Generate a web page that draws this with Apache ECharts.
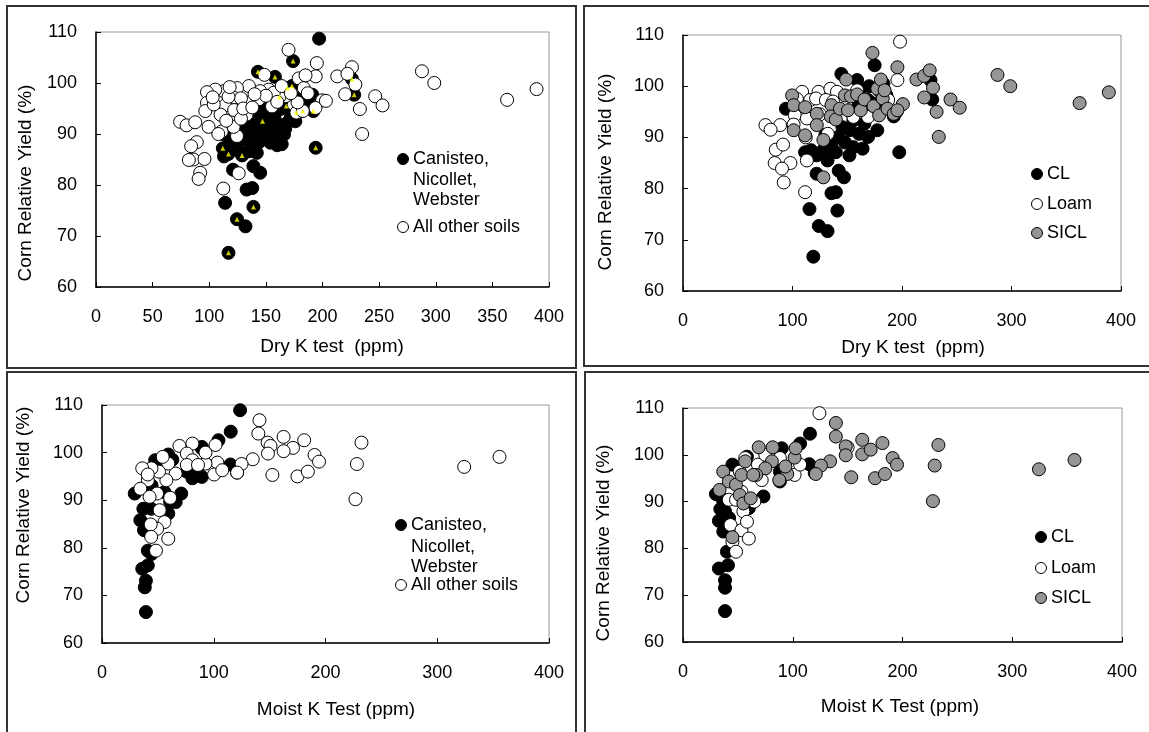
<!DOCTYPE html>
<html>
<head>
<meta charset="utf-8">
<script src="https://cdn.jsdelivr.net/npm/echarts@6/dist/echarts.min.js"></script>
<style>
  html, body { margin: 0; background: #fff; }
  #chart { width: 1149px; height: 732px; }
</style>
</head>
<body>
<div id="chart"></div>
<script>
// ---- data: [K test ppm, corn relative yield %] ----

// top left: dry K, soil series grouping
const dryCnw = [
  [197,108.7],[174,104.3],[143,102.2],[158,101.2],[169,99.0],[173,99.4],[191,97.7],[192,94.5],
  [194,87.3],[112,87.2],[117,86.1],[113,85.6],[129,85.8],[121,83.0],[139,83.7],[145,82.4],
  [114,76.5],[124.5,73.3],[132,71.9],[139,75.7],[133,79.1],[138,79.4],[117,66.7],[113,89.9],
  [129,89.9],[133,88.9],[139,87.6],[138,90.2],[145,91.2],[147,92.5],[151,91.9],[154,88.3],
  [164,88.0],[160,89.6],[166,89.9],[163,91.5],[169,92.2],[172,93.5],[175,94.1],[180,94.8],
  [157,90.9],[148,89.6],[121,87.3],[126,86.8],[135,86.6],[142,86.3],[136,92.8],[142,94.0],
  [150,94.5],[156,93.6],[162,94.8],[168,95.5],[177,97.0],[186,96.5],[226,100.8],[228,97.7],
  [131,91.0],[144,88.4],[152,90.0],[158,92.8],[167,91.0],[125,88.5],[118,88.0],[140,92.0],
  [185,96.0],[176,92.5],[160,87.8],[155,96.5],[148,95.8],[170,96.8]
];
const dryOther = [
  [170,106.5],[195,103.9],[194,101.3],[148.7,101.6],[179,100.9],[183.5,99.0],[199.7,96.6],[193.8,95.1],
  [180.5,94.5],[174.6,95.8],[167.3,97.4],[162,97.3],[177,94.2],[182.6,94.5],[152.5,98.7],[145,98.4],
  [157,98.1],[135,99.4],[124.5,99.0],[112.7,98.4],[105.3,98.7],[98,98.2],[121.5,97.1],[135,96.2],
  [143.6,96.8],[155.4,95.4],[114,95.6],[98,96.1],[96.5,94.5],[110,93.8],[122,94.7],[133,93.8],
  [99.4,91.4],[111,90.5],[124.5,89.6],[121.5,91.4],[74.3,92.4],[80,91.7],[87.6,92.3],[89,88.4],
  [84,87.6],[86,85.0],[95.8,85.1],[92,82.4],[90.6,81.2],[112.4,79.3],[126,82.3],[82,84.9],
  [287.8,102.3],[298.7,100.0],[363,96.7],[389,98.8],[246.5,97.4],[253,95.6],[233,94.9],[235,90.0],
  [226,103.1],[229,99.7],[220,97.8],[213,101.3],[222,101.8],[203,96.5],[185,101.5],[178,96.2],
  [160,96.3],[150,97.5],[140,97.8],[128,97.0],[117,97.3],[104,95.8],[108,90.0],[128,93.0],
  [115,92.6],[164,99.4],[172,98.0],[187,98.0],[103,97.2],[118,99.2],[130,95.0],[138,95.2]
];
// small yellow triangles sitting on some of the top-left markers
const dryFlag = [
  [174,104.3],[143,102.2],[158,101.2],[169,99.0],[173,99.4],[192,94.5],[194,87.3],[112,87.2],
  [117,86.1],[129,85.8],[124.5,73.3],[139,75.7],[117,66.7],[147,92.5],[162,97.3],[177,94.2],
  [182.6,94.5],[226,100.8],[228,97.7],[168,95.5]
];

// top right: dry K, texture grouping
const dryCL = [
  [197.5,87.1],[175,104.1],[144.6,102.4],[159,101.2],[119,66.7],[115.5,76.0],[124,72.7],[132,71.7],
  [135.6,79.1],[139.6,79.3],[141,75.7],[142.2,83.5],[147,82.2],[122,82.9],[111.5,87.1],[122,86.5],
  [132,85.5],[139.6,87.1],[135.6,88.8],[142,90.1],[145.6,92.0],[155.6,88.1],[164,87.8],[169,90.1],
  [160.7,90.7],[152.3,91.4],[155.6,93.3],[165.7,92.7],[172.4,94.6],[175.7,96.6],[169,97.3],[179,99.2],
  [185.8,98.2],[192.5,94.1],[177.4,91.4],[94,95.6],[226,101.2],[227.6,97.4],[128,87.5],[148,89.0],
  [160,96.0],[170,100.0],[195,95.0],[152,86.5],[130,90.5],[117,87.5],[183,100.5],[224,102.5],[162,99.5]
];
const dryLoam = [
  [198.2,108.7],[195.8,101.2],[75.3,92.4],[88.7,92.4],[84.7,87.6],[91.4,88.6],[83.7,85.0],[98.1,85.0],
  [90.4,83.9],[92,81.2],[111.5,79.3],[113.1,85.5],[108.8,98.9],[116.2,97.3],[123.8,98.9],[134.6,99.5],
  [102.1,94.3],[113.1,93.7],[121.5,97.6],[130.5,97.3],[140.6,98.9],[112.1,90.0],[132.2,90.7],[155.6,94.0],
  [159,99.2],[169,94.0],[187.4,97.3],[80,91.5],[101,92.5],[125,94.5],[145,96.5],[104,97.5],[137,97.0]
];
const drySicl = [
  [173,106.5],[195.8,103.7],[213.2,101.3],[220.3,102.0],[225.3,103.1],[228.3,99.7],[220.3,97.8],[231.6,95.0],
  [244.3,97.4],[252.7,95.8],[233.6,90.1],[287.2,102.2],[298.9,100.0],[362.2,96.7],[388.9,98.8],[99.7,98.2],
  [101.1,96.3],[101.1,91.4],[111.5,95.9],[111.5,90.4],[122.2,94.6],[122.2,92.4],[128.2,89.5],[128.2,82.2],
  [135.6,96.3],[134.9,94.1],[139.6,93.5],[143.3,95.6],[149,101.3],[147.9,98.2],[153.3,98.0],[150.6,95.3],
  [159,98.4],[162.3,95.3],[165.7,97.4],[174,96.1],[177.4,99.5],[180.7,101.3],[182.4,97.6],[179.1,94.3],
  [184.1,99.2],[186.8,95.6],[192.5,94.6],[200.8,96.5],[195.8,95.3]
];

// bottom left: moist K, soil series grouping
const moistCnw = [
  [123.6,108.9],[115.2,104.4],[104.2,102.6],[89.3,101.2],[114.9,97.5],[120.9,95.8],[29.3,91.4],[34.3,85.8],
  [37,88.2],[44,88.2],[37.6,83.7],[42.6,83.0],[41,79.4],[44.3,78.7],[36,75.6],[41,76.3],
  [39.3,73.1],[38.3,71.7],[39.3,66.5],[47.6,98.4],[59.3,99.6],[59.3,87.2],[61,89.6],[70.9,91.4],
  [65.9,89.6],[89.3,94.9],[89.3,100.9],[75.9,96.0],[80.9,94.6],[44.3,93.1],[55.9,91.7],[49,97.5],
  [63,98.5],[85,95.5]
];
const moistOther = [
  [140.9,106.8],[139.9,104.0],[162.5,103.3],[148.2,102.1],[150.8,101.4],[170.9,101.0],[180.9,102.6],[162.5,100.3],
  [148.5,99.8],[152.5,95.3],[174.9,95.0],[184.2,96.0],[190.2,99.5],[194.2,98.1],[228.1,97.6],[232.2,102.1],
  [226.8,90.2],[324.1,97.0],[355.7,99.1],[134.9,98.6],[124.9,97.6],[120.9,95.8],[103.2,97.9],[100.3,95.4],
  [92.6,97.7],[80.9,101.9],[69.3,101.4],[75.9,99.8],[80.9,98.4],[75.9,97.4],[65.9,95.6],[59.3,97.7],
  [54.3,99.1],[57.6,94.2],[51,96.0],[44.3,96.7],[36,96.7],[41,94.2],[34.3,92.4],[49.3,91.4],
  [42.6,90.7],[61,90.5],[51.6,87.9],[55.9,85.4],[49.3,84.0],[43.6,84.9],[44,82.3],[59.3,81.9],
  [48.3,79.4],[41,95.4],[85.9,97.4],[92.6,100.0],[107.6,96.3],[101.6,101.6]
];

// bottom right: moist K, texture grouping
const moistCL = [
  [115.7,104.5],[106.7,102.4],[30,91.6],[34,88.4],[38.3,87.9],[32.7,85.9],[36.7,83.6],[40,79.3],
  [32.7,75.7],[41,76.4],[38.3,73.2],[38.3,71.6],[38.3,66.6],[45,97.9],[58.3,99.6],[90,101.4],
  [88.3,94.3],[73.3,91.1],[60,88.6],[115,98.0],[120,96.1],[88.3,96.4],[36,90.5],[42,86.5]
];
const moistLoam = [
  [124.3,108.9],[56.7,99.3],[51.7,96.4],[53.3,92.1],[41.7,90.4],[48.3,90.4],[55,87.9],[43.3,85.0],
  [53.3,83.9],[58.3,85.7],[60,82.1],[45,81.4],[48.3,79.3],[65,90.0],[71.7,94.6],[68.3,97.9],
  [75,100.0],[101.7,95.7],[106.7,97.9],[150,101.6],[88.3,99.3]
];
const moistSicl = [
  [139.3,106.8],[139.3,103.9],[163.3,103.2],[148.3,101.8],[148.3,99.9],[163.3,100.1],[171,101.1],[181.7,102.5],
  [191,99.3],[195,97.9],[153.3,95.2],[175,95.0],[184,95.9],[229.3,97.7],[232.7,102.1],[227.7,90.1],
  [324.3,96.9],[356.7,98.9],[134,98.6],[125.7,97.7],[121,95.9],[101.7,99.4],[102.7,101.4],[81.7,101.6],
  [69,101.6],[81,98.6],[75,97.1],[66.7,95.7],[56.7,98.6],[95,95.9],[93.3,97.5],[87.7,94.6],
  [36.7,96.4],[33.3,92.5],[41.7,94.3],[48.3,93.6],[53.3,95.7],[51.7,91.4],[55,89.6],[61.7,90.7],
  [45,82.4],[64,95.7]
];

const FONT = '"Liberation Sans", Arial, sans-serif';
const FS = 18;   // tick labels and legends
const TS = 19;   // axis titles

// plot rectangles of the four panels (tl, tr, bl, br)
const grids = [
  { left: 96,  top: 32,  width: 453, height: 255 },
  { left: 683, top: 35,  width: 438, height: 256 },
  { left: 102, top: 405, width: 447, height: 238 },
  { left: 683, top: 408, width: 439, height: 234 }
];
const xStep = [50, 100, 100, 100];

const axisBase = {
  axisLine: { show: true, onZero: false, lineStyle: { color: '#000', width: 1.5 } },
  axisTick: { show: true, inside: true, length: 5, lineStyle: { color: '#000' } },
  axisLabel: { color: '#000', fontSize: FS, fontFamily: FONT },
  splitLine: { show: false }
};

const xAxes = grids.map((g, i) => ({
  ...axisBase, type: 'value', gridIndex: i, min: 0, max: 400, interval: xStep[i],
  axisLabel: { ...axisBase.axisLabel, margin: 21 }
}));
const yAxes = grids.map((g, i) => ({
  ...axisBase, type: 'value', gridIndex: i, min: 60, max: 110, interval: 10,
  axisLabel: { ...axisBase.axisLabel, margin: 19 }
}));

function dots(name, data, i, fill) {
  return {
    name, type: 'scatter', xAxisIndex: i, yAxisIndex: i, data,
    symbol: 'circle', symbolSize: 13,
    itemStyle: { color: fill, borderColor: '#000', borderWidth: 1, opacity: 1 }
  };
}

const series = [
  dots('Canisteo, Nicollet, Webster', dryCnw, 0, '#000'),
  dots('All other soils', dryOther, 0, '#fff'),
  {
    name: 'flag', type: 'scatter', xAxisIndex: 0, yAxisIndex: 0, data: dryFlag,
    symbol: 'triangle', symbolSize: 5, itemStyle: { color: '#ffff00' }
  },
  dots('CL', dryCL, 1, '#000'),
  dots('Loam', dryLoam, 1, '#fff'),
  dots('SICL', drySicl, 1, '#969696'),
  dots('Canisteo, Nicollet, Webster', moistCnw, 2, '#000'),
  dots('All other soils', moistOther, 2, '#fff'),
  dots('CL', moistCL, 3, '#000'),
  dots('Loam', moistLoam, 3, '#fff'),
  dots('SICL', moistSicl, 3, '#969696')
];

// ---- text / frame decoration ----
function label(text, x, y) {
  return {
    type: 'text', x, y, z: 50,
    style: { text, fill: '#000', font: FS + 'px ' + FONT, align: 'left', verticalAlign: 'middle' }
  };
}
function title(text, x, y, rot) {
  return {
    type: 'text', x, y, rotation: rot || 0, z: 50,
    style: { text, fill: '#000', font: TS + 'px ' + FONT, align: 'center', verticalAlign: 'middle' }
  };
}
function key(x, y, fill) {
  return { type: 'circle', z: 50, shape: { cx: x, cy: y, r: 5.5 }, style: { fill, stroke: '#000', lineWidth: 1 } };
}
function frame(x, y, w, h) {
  return { type: 'rect', z: 60, shape: { x, y, width: w, height: h }, style: { fill: 'none', stroke: '#333', lineWidth: 2 } };
}

const graphic = [
  frame(7, 6, 569, 362), frame(584, 6, 568, 360), frame(7, 372, 569, 370), frame(585, 372, 567, 370),

  title('Corn Relative Yield (%)', 26, 183, Math.PI / 2),
  title('Dry K test  (ppm)', 332, 347),
  key(403, 159, '#000'), label('Canisteo,', 413, 159), label('Nicollet,', 413, 180), label('Webster', 413, 200),
  key(403, 227, '#fff'), label('All other soils', 413, 227),

  title('Corn Relative Yield (%)', 606, 172, Math.PI / 2),
  title('Dry K test  (ppm)', 913, 348),
  key(1037, 174, '#000'), label('CL', 1047, 174),
  key(1037, 204, '#fff'), label('Loam', 1047, 204),
  key(1037, 233, '#969696'), label('SICL', 1047, 233),

  title('Corn Relative Yield (%)', 24, 505, Math.PI / 2),
  title('Moist K Test (ppm)', 336, 710),
  key(401, 525, '#000'), label('Canisteo,', 411, 525), label('Nicollet,', 411, 547), label('Webster', 411, 567),
  key(401, 585, '#fff'), label('All other soils', 411, 585),

  title('Corn Relative Yield (%)', 604, 543, Math.PI / 2),
  title('Moist K Test (ppm)', 900, 707),
  key(1041, 537, '#000'), label('CL', 1051, 537),
  key(1041, 568, '#fff'), label('Loam', 1051, 568),
  key(1041, 598, '#969696'), label('SICL', 1051, 598)
];

const chart = echarts.init(document.getElementById('chart'), null, { renderer: 'canvas' });
chart.setOption({
  backgroundColor: '#fff',
  animation: false,
  textStyle: { fontFamily: FONT },
  grid: grids.map(g => ({ ...g, show: true, borderColor: '#999', borderWidth: 1, backgroundColor: 'transparent' })),
  xAxis: xAxes,
  yAxis: yAxes,
  series,
  graphic
});
</script>
</body>
</html>
